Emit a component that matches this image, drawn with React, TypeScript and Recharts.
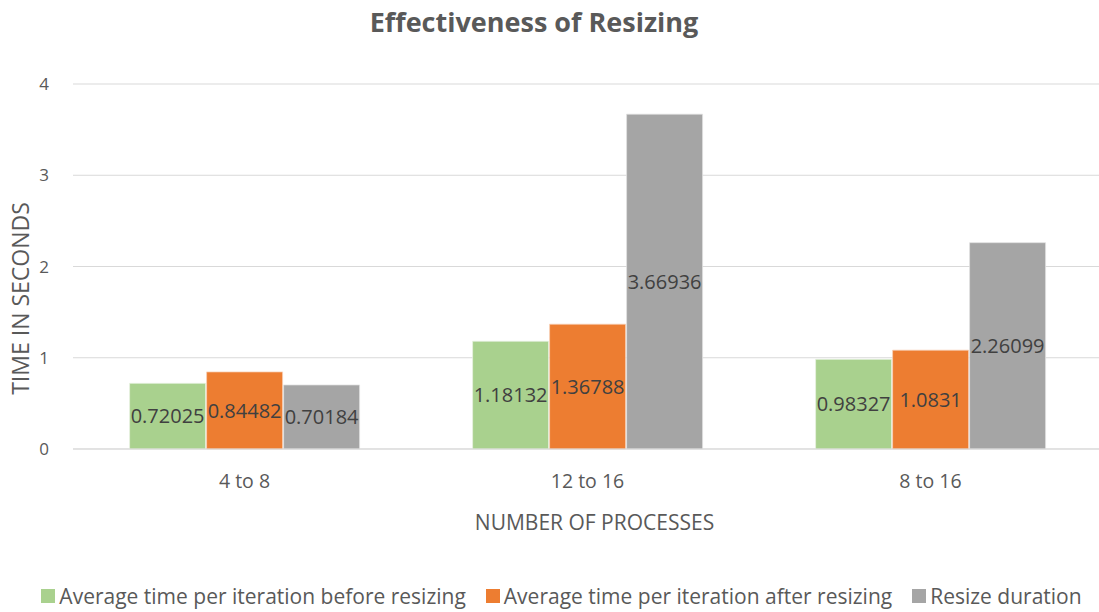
import { BarChart, Bar, XAxis, YAxis, CartesianGrid, Legend, LabelList, Label } from "recharts"

const categories = ["4 to 8", "12 to 16", "8 to 16"]
const beforeResizing = [0.72025, 1.18132, 0.98327]
const afterResizing = [0.84482, 1.36788, 1.0831]
const resizeDuration = [0.70184, 3.66936, 2.26099]
const yTicks = [0, 1, 2, 3, 4]
const seriesNames = [
  "Average time per iteration before resizing",
  "Average time per iteration after resizing",
  "Resize duration",
]
const seriesColors = ["#A9D18E", "#ED7D31", "#A5A5A5"]

const data = categories.map((name, i) => ({
  name,
  before: beforeResizing[i],
  after: afterResizing[i],
  resize: resizeDuration[i],
}))

const FONT = "'Open Sans', sans-serif"
const TEXT = "#595959"

function renderLegend() {
  return (
    <div style={{ display: "flex", justifyContent: "center", fontFamily: FONT, fontSize: 21, color: TEXT }}>
      {seriesNames.map((name, i) => (
        <div key={name} style={{ display: "flex", alignItems: "center", marginRight: i < seriesNames.length - 1 ? 20 : 0 }}>
          <span style={{ width: 14, height: 14, background: seriesColors[i], display: "inline-block", marginRight: 4 }} />
          <span>{name}</span>
        </div>
      ))}
    </div>
  )
}

function YTitle({ viewBox }: any) {
  const x = viewBox.x + 20
  const y = viewBox.y + viewBox.height / 2 + 32
  return (
    <text x={x} y={y} transform={`rotate(-90 ${x} ${y})`} textAnchor="middle" dominantBaseline="central"
      fill={TEXT} fontSize={23} fontFamily={FONT}>
      TIME IN SECONDS
    </text>
  )
}

function XTitle({ viewBox }: any) {
  return (
    <text x={viewBox.x + viewBox.width / 2 + 7} y={viewBox.y + 81} textAnchor="middle"
      fill={TEXT} fontSize={21} fontFamily={FONT}>
      NUMBER OF PROCESSES
    </text>
  )
}

export default function App() {
  return (
    <div style={{ position: "absolute", left: 0, top: 0, width: 1099, height: 612, background: "#fff" }}>
      <div style={{ position: "absolute", top: 3, left: 0, width: 1068, textAlign: "center", fontFamily: FONT,
        fontWeight: 700, fontSize: 27, lineHeight: "38px", color: TEXT }}>
        Effectiveness of Resizing
      </div>
      <BarChart width={1099} height={612} data={data} margin={{ top: 84, right: -3, bottom: 73, left: 0 }}
        barCategoryGap="16.5%" barGap={1}>
        <CartesianGrid vertical={false} stroke="#D9D9D9" />
        <XAxis dataKey="name" height={90} axisLine={{ stroke: "#D9D9D9" }} tickLine={false} tickMargin={19}
          tick={{ fontSize: 19.5, fill: TEXT, fontFamily: FONT }}>
          <Label content={<XTitle />} />
        </XAxis>
        <YAxis width={73} domain={[0, 4]} ticks={yTicks} axisLine={false} tickLine={false} tickMargin={18}
          tick={{ fontSize: 17, fill: TEXT, fontFamily: FONT }}>
          <Label content={<YTitle />} />
        </YAxis>
        <Legend verticalAlign="middle" wrapperStyle={{ top: 582, left: 12, width: 1099 }} content={renderLegend} />
        <Bar dataKey="before" name={seriesNames[0]} fill={seriesColors[0]} stroke="#EAF3E4"
          strokeWidth={0.75} isAnimationActive={false}>
          <LabelList dataKey="before" position="center" fill="#404040" fontSize={20} fontFamily={FONT} />
        </Bar>
        <Bar dataKey="after" name={seriesNames[1]} fill={seriesColors[1]} stroke="#F8D2B8"
          strokeWidth={0.75} isAnimationActive={false}>
          <LabelList dataKey="after" position="center" fill="#404040" fontSize={20} fontFamily={FONT} />
        </Bar>
        <Bar dataKey="resize" name={seriesNames[2]} fill={seriesColors[2]} stroke="#E2E2E2"
          strokeWidth={0.75} isAnimationActive={false}>
          <LabelList dataKey="resize" position="center" fill="#404040" fontSize={20} fontFamily={FONT} />
        </Bar>
      </BarChart>
    </div>
  )
}
